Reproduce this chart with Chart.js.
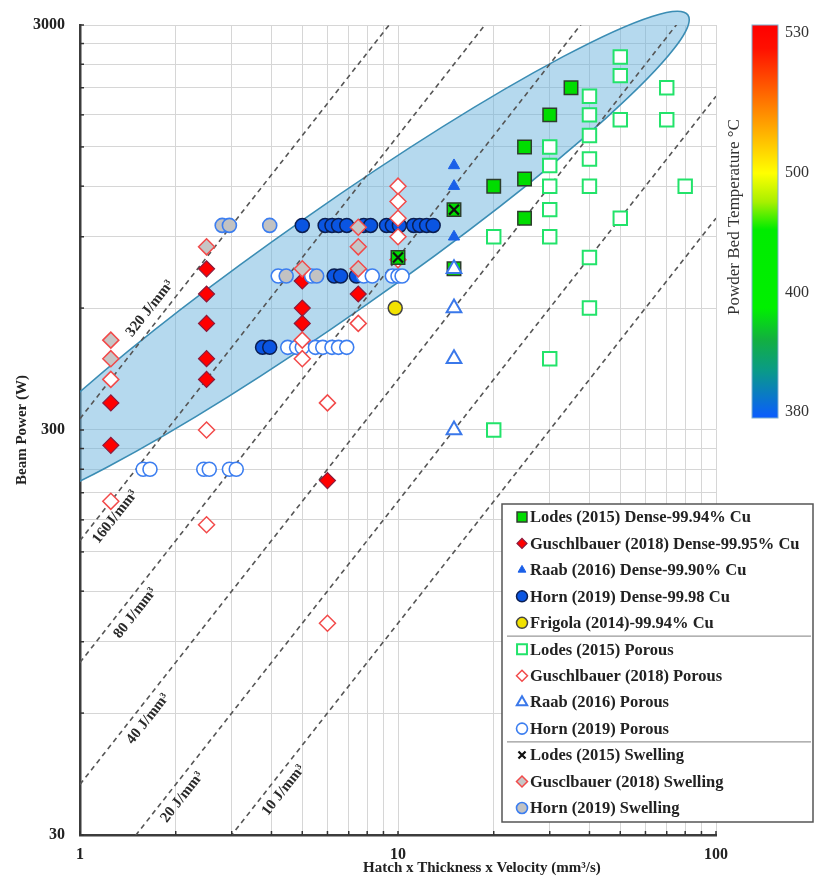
<!DOCTYPE html>
<html lang="en">
<head>
<meta charset="UTF-8"/>
<title>Beam Power vs Hatch x Thickness x Velocity</title>
<script src="https://cdn.jsdelivr.net/npm/chart.js@4.4.0/dist/chart.umd.min.js"></script>
<style>
    body { margin: 0; background: #fff; }
</style>
</head>
<body>
<canvas id="chart" width="819" height="880"></canvas>
<script>
    // ---- data (x = hatch x thickness x velocity mm3/s, y = beam power W) ----
    const lodesDenseX = [35, 30, 25, 20, 25, 25, 15, 15, 10];
    const lodesDenseY = [2100, 1800, 1500, 1200, 1250, 1000, 750, 1050, 800];

    const guschDenseX = [1.25, 1.25, 2.5, 2.5, 2.5, 2.5, 2.5, 5, 5, 5, 7.5, 6];
    const guschDenseY = [350, 275, 750, 650, 550, 450, 400, 700, 600, 550, 650, 225];

    const raabDenseX = [15, 15, 15];
    const raabDenseY = [1350, 1200, 900];

    const hornDenseX = [5, 5.9, 6.2, 6.5, 6.9, 7.8, 8.2, 9.2, 9.6, 10.1, 11.2, 11.7, 12.3, 12.9, 6.3, 6.6, 7.4, 3.75, 3.95];
    const hornDenseY = [960, 960, 960, 960, 960, 960, 960, 960, 960, 960, 960, 960, 960, 960, 720, 720, 720, 480, 480];

    const frigolaX = [9.8];
    const frigolaY = [600];

    const lodesPorousX = [50, 50, 40, 70, 40, 50, 70, 40, 30, 40, 30, 30, 40, 80, 30, 50, 20, 30, 40, 40, 30, 20];
    const lodesPorousY = [2500, 2250, 2000, 2100, 1800, 1750, 1750, 1600, 1500, 1400, 1350, 1200, 1200, 1200, 1050, 1000, 900, 900, 800, 600, 450, 300];

    const guschPorousX = [1.25, 1.25, 2.5, 2.5, 5, 5, 6, 6, 7.5, 10, 10, 10, 10, 10];
    const guschPorousY = [400, 200, 300, 175, 500, 450, 350, 100, 550, 1200, 1100, 1000, 900, 790];

    const raabPorousX = [15, 15, 15, 15];
    const raabPorousY = [750, 600, 450, 300];

    const hornPorousX = [4.2, 5.35, 7.8, 8.3, 9.6, 10, 10.3, 4.5, 4.8, 5, 5.5, 5.8, 6.2, 6.5, 6.9, 1.58, 1.66, 2.45, 2.55, 2.95, 3.1];
    const hornPorousY = [720, 720, 720, 720, 720, 720, 720, 480, 480, 480, 480, 480, 480, 480, 480, 240, 240, 240, 240, 240, 240];

    const lodesSwellX = [15, 10];
    const lodesSwellY = [1050, 800];

    const guschSwellX = [1.25, 1.25, 2.5, 5, 7.5, 7.5, 7.5];
    const guschSwellY = [500, 450, 850, 750, 950, 850, 750];

    const hornSwellX = [2.8, 2.95, 3.95, 4.45, 5.55];
    const hornSwellY = [960, 960, 960, 720, 720];

    // iso energy density lines (J/mm3)
    const energies = [320, 160, 80, 40, 20, 10];
    const energyLabels = ['320 J/mm³', '160J/mm³', '80 J/mm³', '40 J/mm³', '20 J/mm³', '10 J/mm³'];

    // axis ticks
    const xGrid = [1, 2, 3, 4, 5, 6, 7, 8, 9, 10, 20, 30, 40, 50, 60, 70, 80, 90, 100];
    const xLabels = [1, 10, 100];
    const yGrid = [30, 60, 90, 120, 150, 180, 210, 240, 270, 300, 600, 900, 1200, 1500, 1800, 2100, 2400, 2700, 3000];
    const yLabels = [30, 300, 3000];

    // colour bar
    const cbarTicks = [530, 500, 400, 380];

    // process window ellipse, in data space
    const ellipseCenter = [6.34, 780];
    const ellipseTip = [81.6, 3175];
    const ellipseRatio = 0.123;

    const serif = '"Liberation Serif", "Times New Roman", serif';

    const pts = (xs, ys) => xs.map((x, i) => ({x: x, y: ys[i]}));

    function series(label, xs, ys, style, order) {
        return {
            label: label,
            data: pts(xs, ys),
            order: order,
            pointStyle: style.shape,
            pointRadius: style.r,
            pointHoverRadius: style.r,
            pointBackgroundColor: style.fill,
            pointBorderColor: style.stroke,
            pointBorderWidth: style.bw,
            legendRadius: style.lr,
            showLine: false
        };
    }

    // lower order = drawn on top
    const datasets = [
        series('Lodes (2015) Dense-99.94% Cu', lodesDenseX, lodesDenseY,
            {shape: 'rect', r: 9.5, fill: '#00dd00', stroke: '#2d3d2d', bw: 1.5, lr: 7}, 1.5),
        series('Guschlbauer (2018) Dense-99.95% Cu', guschDenseX, guschDenseY,
            {shape: 'rectRot', r: 8, fill: '#ff0000', stroke: '#8a1a3c', bw: 1.2, lr: 5}, 3),
        series('Raab (2016) Dense-99.90% Cu', raabDenseX, raabDenseY,
            {shape: 'triangle', r: 6.5, fill: '#1a5fe8', stroke: '#1a5fe8', bw: 1, lr: 4.5}, 3),
        series('Horn (2019) Dense-99.98 Cu', hornDenseX, hornDenseY,
            {shape: 'circle', r: 7, fill: '#0a55e2', stroke: '#0b1f52', bw: 1.5, lr: 5.5}, 3),
        series('Frigola (2014)-99.94% Cu', frigolaX, frigolaY,
            {shape: 'circle', r: 7, fill: '#f2e200', stroke: '#444', bw: 1.5, lr: 5.5}, 3),
        series('Lodes (2015) Porous', lodesPorousX, lodesPorousY,
            {shape: 'rect', r: 9.5, fill: '#ffffff', stroke: '#22e36a', bw: 2, lr: 7}, 2),
        series('Guschlbauer (2018) Porous', guschPorousX, guschPorousY,
            {shape: 'rectRot', r: 8, fill: '#ffffff', stroke: '#f24a4a', bw: 1.5, lr: 5.5}, 2),
        series('Raab (2016) Porous', raabPorousX, raabPorousY,
            {shape: 'triangle', r: 8.5, fill: '#ffffff', stroke: '#3a78ea', bw: 2, lr: 6}, 1.2),
        series('Horn (2019) Porous', hornPorousX, hornPorousY,
            {shape: 'circle', r: 7, fill: '#ffffff', stroke: '#3c7ef0', bw: 1.6, lr: 5.5}, 2),
        series('Lodes (2015) Swelling', lodesSwellX, lodesSwellY,
            {shape: 'crossRot', r: 7, fill: '#111', stroke: '#111', bw: 2.2, lr: 5}, 1),
        series('Gusclbauer (2018) Swelling', guschSwellX, guschSwellY,
            {shape: 'rectRot', r: 8, fill: '#c6c6c6', stroke: '#f24a4a', bw: 1.5, lr: 5.5}, 1),
        series('Horn (2019) Swelling', hornSwellX, hornSwellY,
            {shape: 'circle', r: 7, fill: '#c2c2c2', stroke: '#3c7ef0', bw: 1.6, lr: 5.5}, 1)
    ];

    const nSeries = datasets.length;

    energies.forEach((e, i) => {
        datasets.push({
            label: energyLabels[i],
            data: [{x: 1, y: e}, {x: 100, y: e * 100}],
            showLine: true,
            borderColor: '#555',
            borderWidth: 1.6,
            borderDash: [5, 4],
            pointRadius: 0,
            pointHoverRadius: 0,
            fill: false,
            order: 10
        });
    });

    const ellipsePlugin = {
        id: 'processWindow',
        beforeDatasetsDraw(chart) {
            const {ctx, chartArea, scales} = chart;
            const cx = scales.x.getPixelForValue(ellipseCenter[0]);
            const cy = scales.y.getPixelForValue(ellipseCenter[1]);
            const tx = scales.x.getPixelForValue(ellipseTip[0]);
            const ty = scales.y.getPixelForValue(ellipseTip[1]);
            const a = Math.hypot(tx - cx, ty - cy);
            const ang = Math.atan2(ty - cy, tx - cx);
            ctx.save();
            ctx.beginPath();
            ctx.rect(chartArea.left, 0, chart.width - chartArea.left, chartArea.bottom);
            ctx.clip();
            ctx.beginPath();
            ctx.ellipse(cx, cy, a, a * ellipseRatio, ang, 0, Math.PI * 2);
            ctx.fillStyle = 'rgba(100, 176, 220, 0.48)';
            ctx.fill();
            ctx.strokeStyle = '#3b8db4';
            ctx.lineWidth = 1.6;
            ctx.stroke();
            ctx.restore();
        }
    };

    function marker(ctx, ds, x, y, r) {
        ctx.save();
        ctx.fillStyle = ds.pointBackgroundColor;
        ctx.strokeStyle = ds.pointBorderColor;
        ctx.lineWidth = ds.pointBorderWidth;
        Chart.helpers.drawPoint(ctx, {pointStyle: ds.pointStyle, radius: r, rotation: 0, borderWidth: ds.pointBorderWidth}, x, y);
        ctx.restore();
    }

    const decorPlugin = {
        id: 'decor',
        afterDraw(chart) {
            const {ctx, chartArea, scales} = chart;
            const xs = scales.x, ys = scales.y;
            ctx.save();

            // small inward tick marks
            ctx.strokeStyle = '#333';
            ctx.lineWidth = 1.5;
            xGrid.forEach(v => {
                const px = xs.getPixelForValue(v);
                ctx.beginPath();
                ctx.moveTo(px, chartArea.bottom);
                ctx.lineTo(px, chartArea.bottom - 4);
                ctx.stroke();
            });
            yGrid.forEach(v => {
                const py = ys.getPixelForValue(v);
                ctx.beginPath();
                ctx.moveTo(chartArea.left, py);
                ctx.lineTo(chartArea.left + 4, py);
                ctx.stroke();
            });

            // axis titles
            ctx.fillStyle = '#222';
            ctx.font = 'bold 15px ' + serif;
            ctx.textAlign = 'center';
            ctx.textBaseline = 'middle';
            ctx.fillText('Hatch x Thickness x Velocity (mm³/s)', chartArea.left + 0.632 * (chartArea.right - chartArea.left), 868);
            ctx.save();
            ctx.translate(22, (chartArea.top + chartArea.bottom) / 2);
            ctx.rotate(-Math.PI / 2);
            ctx.fillText('Beam Power (W)', 0, 0);
            ctx.restore();

            // energy line labels
            const labelAt = [1.786, 1.198, 1.386, 1.52, 1.946, 4.05];
            const labelSide = [-1, 1, 1, 1, 1, 1];
            ctx.font = 'bold 15px ' + serif;
            ctx.fillStyle = '#2a2a2a';
            energies.forEach((e, i) => {
                const lx = labelAt[i];
                const p1x = xs.getPixelForValue(lx), p1y = ys.getPixelForValue(e * lx);
                const p2x = xs.getPixelForValue(lx * 2), p2y = ys.getPixelForValue(e * lx * 2);
                const ang = Math.atan2(p2y - p1y, p2x - p1x);
                const nx = -Math.sin(ang), ny = Math.cos(ang);
                const off = 13 * labelSide[i];
                ctx.save();
                ctx.translate(p1x + nx * off, p1y + ny * off);
                ctx.rotate(ang);
                ctx.fillText(energyLabels[i], 0, 0);
                ctx.restore();
            });

            // colour bar
            const bx = 752, bw = 26, bt = chartArea.top, bb = 418;
            const grad = ctx.createLinearGradient(0, bt, 0, bb);
            [[0, '#ff0000'], [0.06, '#ff1000'], [0.2, '#ff7a00'], [0.377, '#ffff00'], [0.45, '#a8f000'],
                [0.52, '#00ec00'], [0.72, '#00f000'], [0.8, '#12b040'], [0.88, '#0a9a88'], [1, '#0a5cff']]
                .forEach(s => grad.addColorStop(s[0], s[1]));
            ctx.fillStyle = grad;
            ctx.fillRect(bx, bt, bw, bb - bt);
            ctx.strokeStyle = '#7fb0d0';
            ctx.lineWidth = 1;
            ctx.strokeRect(bx, bt, bw, bb - bt);
            const cbarPos = [0.02, 0.377, 0.682, 0.985];
            ctx.fillStyle = '#333';
            ctx.font = '16px ' + serif;
            ctx.textAlign = 'left';
            cbarTicks.forEach((t, i) => {
                ctx.fillText(String(t), bx + bw + 7, bt + cbarPos[i] * (bb - bt));
            });
            ctx.save();
            ctx.translate(735, 217);
            ctx.rotate(-Math.PI / 2);
            ctx.textAlign = 'center';
            ctx.font = '17px ' + serif;
            ctx.fillText('Powder Bed Temperature °C', 0, 0);
            ctx.restore();

            // legend
            const lx0 = 502, ly0 = 504, lw = 311, lh = 318;
            ctx.fillStyle = '#fff';
            ctx.fillRect(lx0, ly0, lw, lh);
            ctx.strokeStyle = '#555';
            ctx.lineWidth = 1.5;
            ctx.strokeRect(lx0, ly0, lw, lh);
            const step = 26.45;
            ctx.font = 'bold 16.5px ' + serif;
            ctx.textAlign = 'left';
            for (let i = 0; i < nSeries; i++) {
                const ds = chart.data.datasets[i];
                const ry = ly0 + 13 + i * step;
                marker(ctx, ds, lx0 + 20, ry, ds.legendRadius);
                ctx.fillStyle = '#222';
                ctx.fillText(ds.label, lx0 + 28, ry + 1);
            }
            ctx.strokeStyle = '#999';
            ctx.lineWidth = 1.2;
            [5, 9].forEach(k => {
                const sy = ly0 + 13 + (k - 0.5) * step;
                ctx.beginPath();
                ctx.moveTo(lx0 + 5, sy);
                ctx.lineTo(lx0 + lw - 2, sy);
                ctx.stroke();
            });

            ctx.restore();
        }
    };

    const tickFont = {family: serif, size: 16, weight: 'bold'};

    new Chart(document.getElementById('chart').getContext('2d'), {
        type: 'scatter',
        data: {datasets: datasets},
        options: {
            responsive: false,
            animation: false,
            layout: {padding: {top: 25, right: 103, left: 0, bottom: 0}},
            plugins: {
                legend: {display: false},
                tooltip: {enabled: false}
            },
            scales: {
                x: {
                    type: 'logarithmic',
                    min: 1,
                    max: 100,
                    afterFit(s) { s.height = 45; },
                    afterBuildTicks(s) { s.ticks = xGrid.map(v => ({value: v})); },
                    grid: {color: '#d6d6d6', lineWidth: 1, drawTicks: false},
                    border: {color: '#3c3c3c', width: 2.5},
                    ticks: {
                        autoSkip: false, maxRotation: 0, padding: 10, color: '#222', font: tickFont,
                        callback: v => xLabels.includes(v) ? String(v) : ''
                    }
                },
                y: {
                    type: 'logarithmic',
                    min: 30,
                    max: 3000,
                    afterFit(s) { s.width = 80; },
                    afterBuildTicks(s) { s.ticks = yGrid.map(v => ({value: v})); },
                    grid: {color: '#d6d6d6', lineWidth: 1, drawTicks: false},
                    border: {color: '#3c3c3c', width: 2.5},
                    ticks: {
                        autoSkip: false, padding: 15, color: '#222', font: tickFont,
                        callback: v => yLabels.includes(v) ? String(v) : ''
                    }
                }
            }
        },
        plugins: [ellipsePlugin, decorPlugin]
    });
</script>
</body>
</html>
